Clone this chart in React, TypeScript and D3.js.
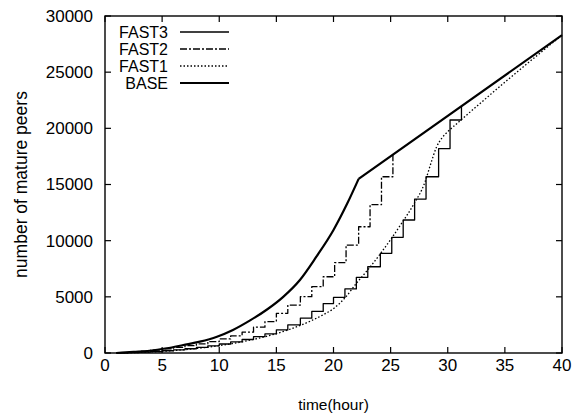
import React from 'react';
import * as d3 from 'd3';

// time (hour) / number of mature peers
const baseTimes = [1, 2.5, 3.9, 5.4, 6.85, 8.3, 9.8, 11.2, 12.7, 14.15, 15.6, 17.06, 18.5, 20, 21.2, 22.2, 40];
const baseValues = [0, 100, 200, 420, 710, 1010, 1450, 2050, 2900, 3850, 5000, 6500, 8570, 10950, 13300, 15500, 28300];
const baseKnee = 22.2; // after this BASE grows linearly

const fast1Times = [1, 2, 4, 6, 8, 10, 12, 14, 16, 18, 19, 20, 21, 22, 23, 24, 25, 26, 27, 28, 28.5, 29, 29.5, 30, 31, 35, 40];
const fast1Values = [0, 20, 90, 220, 400, 650, 1000, 1450, 2050, 2850, 3350, 3950, 4900, 6200, 7400, 8700, 10100, 11600, 13200, 15200, 16800, 18300, 19150, 19700, 20600, 24100, 28300];

// staircases: jump times and the level held after each jump
const fast2Times = [1, 2, 3, 4, 5, 6, 7, 8, 9, 10, 11, 12, 13, 14, 15, 16, 17.1, 18.1, 19.1, 20.1, 21.1, 22.2, 23.2, 24.2, 25.2];
const fast2Values = [30, 90, 170, 260, 370, 500, 650, 820, 1020, 1250, 1520, 1850, 2300, 2790, 3530, 4270, 5010, 5900, 6790, 8050, 9610, 11240, 13200, 15690, 17660];

const fast3Times = [1, 2, 3, 4, 5, 6, 7, 8, 9, 10, 11, 12, 13, 14, 15, 16, 17.1, 18.1, 19.1, 20, 21, 22, 23, 24.1, 25.1, 26.1, 27.1, 28.1, 29.2, 30.2, 31.2];
const fast3Values = [15, 40, 80, 130, 200, 280, 380, 500, 640, 800, 990, 1200, 1450, 1700, 2050, 2500, 3100, 3700, 4400, 4950, 5700, 6740, 7680, 8870, 10300, 11840, 13700, 15690, 18200, 20740, 21970];

const xTicks = [0, 5, 10, 15, 20, 25, 30, 35, 40];
const yTicks = [0, 5000, 10000, 15000, 20000, 25000, 30000];

const series = [
  { name: 'FAST3', times: fast3Times, values: fast3Values, step: true, width: 1.3, dash: '' },
  { name: 'FAST2', times: fast2Times, values: fast2Values, step: true, width: 1.3, dash: '7,2,2,2' },
  { name: 'FAST1', times: fast1Times, values: fast1Values, step: false, width: 1.3, dash: '1.5,2' },
  { name: 'BASE', times: baseTimes, values: baseValues, step: false, width: 2.2, dash: '' },
];

const W = 577;
const H = 417;
const margin = { top: 16, right: 15, bottom: 64, left: 105 };
const font = 'Arial, "Liberation Sans", sans-serif';

export default function App() {
  const width = W - margin.left - margin.right;
  const height = H - margin.top - margin.bottom;

  const x = d3.scaleLinear().domain([0, 40]).range([0, width]);
  const y = d3.scaleLinear().domain([0, 30000]).range([height, 0]);

  const lineOf = (curve: d3.CurveFactory) => d3.line<[number, number]>()
    .x(d => x(d[0]))
    .y(d => y(d[1]))
    .curve(curve);

  const makePath = (s: typeof series[number]) => {
    const pts: [number, number][] = s.times.map((t, i) => [t, s.values[i]]);
    if (s.step) return lineOf(d3.curveStepAfter)(pts) || '';
    if (s.name === 'BASE') {
      const curved = pts.filter(p => p[0] <= baseKnee);
      const straight = pts.filter(p => p[0] >= baseKnee);
      return (lineOf(d3.curveMonotoneX)(curved) || '') + (lineOf(d3.curveLinear)(straight) || '');
    }
    return lineOf(d3.curveMonotoneX)(pts) || '';
  };

  const tick = 6;

  return (
    <svg width={W} height={H} style={{ position: 'absolute', left: 0, top: 0, background: '#fff' }}
      fontFamily={font}>
      <g transform={`translate(${margin.left},${margin.top})`}>
        {series.map(s => (
          <path key={s.name} d={makePath(s)} fill="none" stroke="#000" strokeLinejoin="round"
            strokeWidth={s.width} strokeDasharray={s.dash || undefined} />
        ))}

        <rect x={0} y={0} width={width} height={height} fill="none" stroke="#000" strokeWidth={1.4} />

        {xTicks.map(t => (
          <g key={'x' + t}>
            <line x1={x(t)} x2={x(t)} y1={height} y2={height - tick} stroke="#000" strokeWidth={1.2} />
            <line x1={x(t)} x2={x(t)} y1={0} y2={tick} stroke="#000" strokeWidth={1.2} />
            <text x={x(t)} y={height + 18} textAnchor="middle" fontSize={17}>{t}</text>
          </g>
        ))}
        {yTicks.map(t => (
          <g key={'y' + t}>
            <line x1={0} x2={tick} y1={y(t)} y2={y(t)} stroke="#000" strokeWidth={1.2} />
            <line x1={width - tick} x2={width} y1={y(t)} y2={y(t)} stroke="#000" strokeWidth={1.2} />
            <text x={-12} y={y(t)} dy="0.35em" textAnchor="end" fontSize={17}>{t}</text>
          </g>
        ))}

        {series.map((s, i) => (
          <g key={'leg' + s.name} transform={`translate(0,${16 + i * 17})`}>
            <text x={63} y={0} dy="0.35em" textAnchor="end" fontSize={16}>{s.name}</text>
            <line x1={75} x2={124} y1={0} y2={0} stroke="#000" strokeWidth={s.width}
              strokeDasharray={s.dash || undefined} />
          </g>
        ))}
      </g>

      <text x={margin.left + width / 2} y={410} textAnchor="middle" fontSize={15.5}>time(hour)</text>
      <text transform={`translate(27,${margin.top + height / 2}) rotate(-90)`} textAnchor="middle"
        fontSize={17.5}>number of mature peers</text>
    </svg>
  );
}
